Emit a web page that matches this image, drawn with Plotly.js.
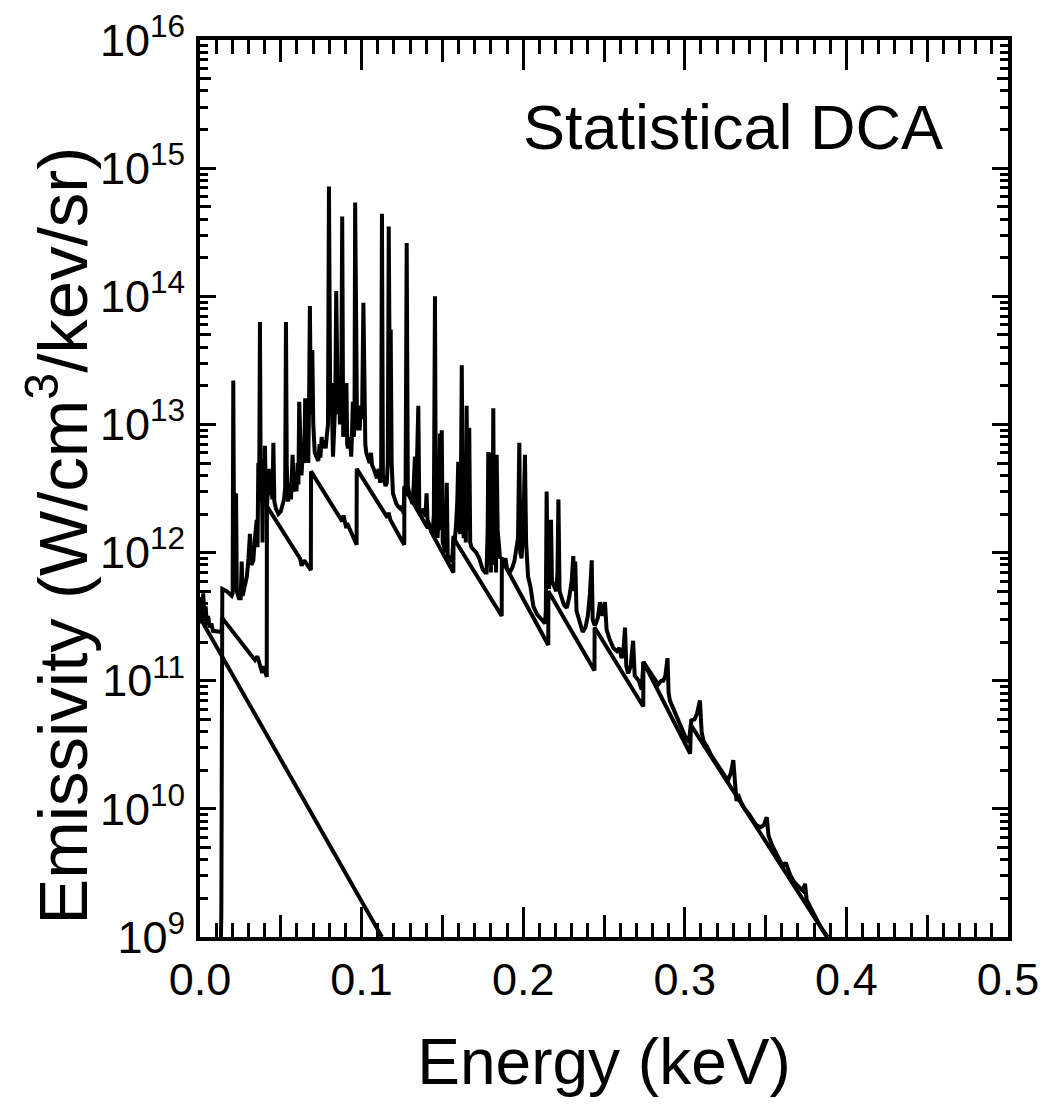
<!DOCTYPE html>
<html>
<head>
<meta charset="utf-8">
<script src="https://cdn.plot.ly/plotly-3.0.1.min.js"></script>
<style>html,body{margin:0;padding:0;background:#fff;} #chart{width:1059px;height:1109px;}</style>
</head>
<body>
<div id="chart"></div>
<script>
// Free-free continuum (steep straight line)
const ffEnergy = [0, 0.1126];
const ffEmis = [3.1e11, 1.0e9];

// Continuum with recombination edges (sawtooth)
const contEnergy = [0, 0.0008, 0.0013, 0.002, 0.0028, 0.0035, 0.0043, 0.005, 0.006, 0.007, 0.008, 0.0125, 0.0134, 0.0136,
  0.034, 0.0355, 0.0385, 0.0395, 0.0413, 0.0414, 0.0619, 0.0629, 0.0645, 0.0686, 0.0687,
  0.088, 0.0888, 0.0905, 0.091, 0.0969, 0.097, 0.116, 0.1168, 0.1178, 0.1264, 0.1265,
  0.141, 0.1418, 0.143, 0.1568, 0.1569, 0.1867, 0.1868, 0.2155, 0.2156, 0.2441, 0.2442,
  0.2743, 0.2744, 0.3033, 0.3038, 0.388];
const contEmis = [3.3e11, 4.5e11, 2.8e11, 4.8e11, 3.0e11, 3.8e11, 2.7e11, 3.2e11, 2.6e11, 2.8e11, 2.45e11, 2.4e11, 2.4e11, 3.1e11,
  1.45e11, 1.55e11, 1.15e11, 1.3e11, 1.07e11, 2.3e12, 9.0e11, 7.9e11, 8.7e11, 7.3e11, 4.3e12,
  1.75e12, 1.95e12, 1.55e12, 1.7e12, 1.15e12, 4.5e12, 1.87e12, 2.05e12, 1.8e12, 1.15e12, 3.2e12,
  1.55e12, 1.7e12, 1.45e12, 7.0e11, 1.3e12, 3.2e11, 8.8e11, 1.9e11, 5.0e11, 1.2e11, 2.6e11,
  6.3e10, 1.4e11, 2.7e10, 4.5e10, 1.0e9];

// Total spectrum (continuum + lines), Statistical DCA
const specEnergy = [0.0125, 0.0132, 0.0138, 0.0165, 0.0196, 0.0202, 0.0206, 0.0212, 0.0218, 0.0223, 0.0228, 0.024, 0.0252, 0.0258, 0.0264,
  0.028, 0.029, 0.030, 0.0309, 0.0318, 0.033, 0.034, 0.0351, 0.0356, 0.0361, 0.0366, 0.0371, 0.0376, 0.0382, 0.0387, 0.0392, 0.0397,
  0.0402, 0.0408, 0.0415, 0.0425, 0.0432, 0.044, 0.0448, 0.0454, 0.046, 0.047, 0.0485, 0.05, 0.051, 0.052, 0.0527, 0.0532, 0.0537,
  0.0545, 0.0555, 0.0563, 0.0573, 0.058, 0.059, 0.0597, 0.0604, 0.0609, 0.0614, 0.062, 0.0628, 0.0636, 0.0645, 0.0651, 0.0657,
  0.0664, 0.067, 0.0675, 0.068, 0.0686, 0.069, 0.0695, 0.0701, 0.071, 0.072, 0.0732, 0.074, 0.0745, 0.0753, 0.076, 0.077, 0.0778,
  0.0784, 0.0792, 0.0798, 0.0806, 0.0813, 0.0818, 0.0823, 0.083, 0.0837, 0.0843, 0.0848, 0.0853, 0.086, 0.0866, 0.0874, 0.088,
  0.0886, 0.0894, 0.09, 0.0906, 0.0911, 0.0916, 0.0926, 0.0936, 0.0941, 0.0946, 0.0952, 0.0956, 0.096, 0.0966, 0.0972, 0.098,
  0.0988, 0.0995, 0.1003, 0.1011, 0.1017, 0.1023, 0.1029, 0.104, 0.105, 0.1058, 0.1065, 0.1075, 0.1085, 0.1095, 0.1105, 0.1115,
  0.1121, 0.1126, 0.1132, 0.114, 0.1148, 0.1156, 0.1162, 0.1168, 0.1174, 0.118, 0.1186, 0.1194, 0.1205, 0.1215, 0.1225, 0.124,
  0.1252, 0.126, 0.1265, 0.1272, 0.1279, 0.1286, 0.1295, 0.1305, 0.1315, 0.1322, 0.133, 0.1336, 0.1344, 0.1351, 0.1357, 0.1365,
  0.1375, 0.1385, 0.1395, 0.1402, 0.1408, 0.142, 0.143, 0.144, 0.1447, 0.1454, 0.146, 0.147, 0.1478, 0.1485, 0.149, 0.1496, 0.1502,
  0.151, 0.152, 0.1527, 0.1533, 0.1547, 0.156, 0.1569, 0.1576, 0.1585, 0.1592, 0.1598, 0.1604, 0.1612, 0.162, 0.1626, 0.1632,
  0.164, 0.1645, 0.165, 0.1656, 0.1666, 0.1672, 0.168, 0.1695, 0.171, 0.1728, 0.1749, 0.1765, 0.1773, 0.178, 0.1784, 0.1788,
  0.1795, 0.18, 0.1806, 0.181, 0.1815, 0.182, 0.1828, 0.1832, 0.1836, 0.1842, 0.185, 0.1856, 0.1868, 0.188, 0.189, 0.19, 0.1915,
  0.193, 0.1945, 0.196, 0.1968, 0.1976, 0.1982, 0.199, 0.2, 0.2011, 0.2018, 0.203, 0.2045, 0.2063, 0.2085, 0.2104, 0.2125, 0.2135,
  0.214, 0.2145, 0.2152, 0.216, 0.2166, 0.2172, 0.2178, 0.219, 0.2205, 0.2212, 0.2218, 0.2225, 0.224, 0.2252, 0.227, 0.2285, 0.23,
  0.231, 0.2316, 0.2322, 0.233, 0.235, 0.2368, 0.2385, 0.24, 0.2413, 0.2424, 0.243, 0.2442, 0.245, 0.2462, 0.2475, 0.249, 0.2506,
  0.2516, 0.2535, 0.2558, 0.258, 0.2595, 0.2609, 0.262, 0.263, 0.2638, 0.265, 0.2665, 0.268, 0.269, 0.2715, 0.2733, 0.2744, 0.276,
  0.2775, 0.28, 0.282, 0.2837, 0.2855, 0.2867, 0.288, 0.2893, 0.29, 0.2908, 0.293, 0.295, 0.2975, 0.3001, 0.3025, 0.304, 0.306,
  0.3075, 0.3094, 0.3104, 0.3115, 0.3135, 0.3165, 0.3197, 0.323, 0.3255, 0.3269, 0.3285, 0.33, 0.331, 0.332, 0.333, 0.3345, 0.337,
  0.34, 0.3425, 0.3445, 0.347, 0.349, 0.3507, 0.3518, 0.354, 0.356, 0.359, 0.361, 0.3625, 0.365, 0.3671, 0.37, 0.373, 0.3744,
  0.3754, 0.38, 0.385, 0.3885];
const specEmis = [5e8, 1.5e9, 5.2e11, 5.0e11, 4.6e11, 4.8e11, 2.2e13, 5e11, 6e11, 2.9e12, 5e11, 4.4e11, 4.4e11, 8.5e11, 4.6e11,
  5.5e11, 6.5e11, 9e11, 1.4e12, 8e11, 8.7e11, 1.3e12, 1.8e12, 1.1e12, 5e12, 2.5e12, 6.3e13, 3e12, 5e12, 1.2e12, 5.3e12, 3e12,
  6.8e12, 2.5e12, 2.3e12, 4.5e12, 2.8e12, 3.5e12, 2.6e12, 7.2e12, 2.5e12, 2.2e12, 2.0e12, 2.1e12, 2.3e12, 2.6e12, 3.2e12, 6.3e13, 4.6e12,
  2.5e12, 3.5e12, 2.6e12, 5.8e12, 3e12, 4e12, 3e12, 5e12, 3.4e12, 1.5e13, 5.5e12, 4e12, 6e12, 5e12, 1.6e13, 6e12,
  1.6e13, 5e12, 1.5e13, 8.4e13, 1.2e13, 1.5e13, 3.8e13, 1e13, 6e12, 5.5e12, 5.2e12, 7e12, 5.5e12, 8e12, 6.5e12, 7.5e12, 6.5e12,
  8e12, 1.0e13, 7.2e14, 1.2e13, 2.1e13, 8e12, 5.6e12, 9e12, 1.5e13, 1.1e14, 2e13, 1.2e13, 2e13, 1e13, 1.6e13, 4.2e14,
  8e12, 1.2e13, 9e12, 2.1e13, 7e12, 6.5e12, 8e12, 5.6e12, 9e12, 1.5e13, 8e12, 1.0e13, 5.4e14, 1.0e13, 9e12, 1.2e13,
  9e12, 1.4e13, 1.1e13, 8.9e13, 1e13, 7e12, 6e12, 5.5e12, 5e12, 6e12, 4.8e12, 4.5e12, 4.0e12, 3.8e12, 4.5e12, 3.5e12,
  4.5e12, 4.4e14, 4e12, 3.5e12, 3.3e12, 3.5e12, 5e12, 3.5e14, 2e13, 5.5e13, 5e12, 2.9e12, 2.6e12, 2.4e12, 2.3e12, 2.2e12,
  2.3e12, 2.0e12, 3.3e12, 2.8e12, 2.6e14, 3.3e12, 2.9e12, 2.6e12, 2.4e12, 3.3e12, 5.6e12, 2.3e12, 6e12, 1.4e13, 2.2e12, 2.1e12,
  2.0e12, 2.2e12, 1.9e12, 2.9e12, 1.8e12, 1.6e12, 1.5e12, 1.4e12, 2e12, 1.0e14, 1.5e12, 1.3e12, 2e12, 8.5e12, 1.5e12, 9e12, 1.2e12,
  1.1e12, 1.0e12, 3.5e12, 9.5e11, 9e11, 8.5e11, 1.35e12, 1.2e12, 1.7e12, 2.5e12, 5.1e12, 1.5e12, 1.4e12, 2.9e13, 1.6e12, 1.3e12,
  2e12, 1.2e12, 1.4e13, 1.5e12, 9.4e12, 1.2e12, 1.1e12, 1.05e12, 1.0e12, 9e11, 7.4e11, 7e11, 7e11, 1.5e12, 6.1e12, 8e11,
  5e12, 7e11, 6e12, 9e11, 1.34e13, 8e11, 5e12, 7e11, 5.8e12, 1.5e12, 1.0e12, 9.2e11, 9e11, 8.5e11, 9e11, 7.5e11, 7e11,
  7.5e11, 8.5e11, 1.1e12, 1.3e12, 7.2e12, 1e12, 9e11, 1.5e12, 5.8e12, 1.2e12, 6.5e11, 5.4e11, 3.8e11, 3.3e11, 3.1e11, 2.9e11, 2.8e11,
  3.5e11, 3e12, 6e11, 5.2e11, 1e12, 1.8e12, 6e11, 5.5e11, 5e11, 7e11, 2.6e12, 5e11, 4.2e11, 3.9e11, 3.7e11, 4.5e11, 6e11,
  9.4e11, 5e11, 8.5e11, 3.5e11, 2.8e11, 2.4e11, 2.6e11, 3.2e11, 4.8e11, 8.7e11, 3e11, 2.7e11, 2.8e11, 3.1e11, 4.1e11, 3.2e11, 4.1e11,
  2.5e11, 2.1e11, 1.8e11, 1.7e11, 1.8e11, 1.5e11, 1.7e11, 2.6e11, 1.3e11, 1.14e11, 1.3e11, 2.05e11, 1.1e11, 1.0e11, 8.5e10, 1.4e11, 1.3e11,
  1.2e11, 1.1e11, 1.0e11, 9.4e10, 1.0e11, 1.0e11, 1.1e11, 1.5e11, 8e10, 7e10, 6e10, 5.3e10, 4.5e10, 3.7e10, 3.3e10, 4.9e10, 5e10,
  5.5e10, 7e10, 4e10, 3.4e10, 3.1e10, 2.6e10, 2.25e10, 1.9e10, 1.75e10, 1.7e10, 1.9e10, 2.4e10, 1.5e10, 1.15e10, 1.3e10, 1.15e10, 1.0e10,
  9e9, 8e9, 7.4e9, 7.2e9, 7.5e9, 8.6e9, 6.2e9, 5.2e9, 4.6e9, 3.9e9, 3.6e9, 3.8e9, 3.1e9, 2.75e9, 2.5e9, 2.3e9, 2.6e9,
  1.95e9, 1.5e9, 1.15e9, 1.0e9];

const xTickVals = [0, 0.1, 0.2, 0.3, 0.4, 0.5];
const xTickText = ['0.0', '0.1', '0.2', '0.3', '0.4', '0.5'];
const xMidTicks = [0.05, 0.15, 0.25, 0.35, 0.45];
const yTickVals = [1e9, 1e10, 1e11, 1e12, 1e13, 1e14, 1e15, 1e16];
const yTickText = ['10<sup>9</sup>', '10<sup>10</sup>', '10<sup>11</sup>', '10<sup>12</sup>', '10<sup>13</sup>', '10<sup>14</sup>', '10<sup>15</sup>', '10<sup>16</sup>'];
const yMidTicks = [5e9, 5e10, 5e11, 5e12, 5e13, 5e14, 5e15];

const FONT = 'Liberation Sans, Arial, Helvetica, sans-serif';
const lineStyle = {color: '#000', width: 4};

const traces = [
  {x: ffEnergy, y: ffEmis, mode: 'lines', line: lineStyle, showlegend: false, hoverinfo: 'skip'},
  {x: contEnergy, y: contEmis, mode: 'lines', line: lineStyle, showlegend: false, hoverinfo: 'skip'},
  {x: specEnergy, y: specEmis, mode: 'lines', line: lineStyle, showlegend: false, hoverinfo: 'skip'},
  {x: [], y: [], xaxis: 'x2', yaxis: 'y2', mode: 'lines', showlegend: false, hoverinfo: 'skip'}
];

const layout = {
  width: 1059, height: 1109,
  margin: {l: 200, r: 51, t: 40, b: 172},
  paper_bgcolor: '#fff', plot_bgcolor: '#fff',
  font: {family: FONT, color: '#000'},
  showlegend: false,
  xaxis: {
    range: [0, 0.5], tickvals: xTickVals, ticktext: xTickText,
    ticks: 'inside', ticklen: 30, tickwidth: 3, tickcolor: '#000',
    minor: {dtick: 0.01, ticks: 'inside', ticklen: 14, tickwidth: 3, tickcolor: '#000', showgrid: false},
    showline: true, linewidth: 4, linecolor: '#000', mirror: 'ticks',
    showgrid: false, zeroline: false,
    tickfont: {size: 45, family: FONT}, ticklabelstandoff: 0,
    title: {text: 'Energy (keV)', font: {size: 64, family: FONT}, standoff: 36}
  },
  yaxis: {
    type: 'log', range: [9, 16], tickvals: yTickVals, ticktext: yTickText,
    ticks: 'inside', ticklen: 16, tickwidth: 3, tickcolor: '#000',
    minor: {dtick: 'D1', ticks: 'inside', ticklen: 8, tickwidth: 3, tickcolor: '#000', showgrid: false},
    showline: true, linewidth: 4, linecolor: '#000', mirror: 'ticks',
    showgrid: false, zeroline: false,
    tickfont: {size: 45, family: FONT}, ticklabelstandoff: 2
  },
  xaxis2: {
    overlaying: 'x', anchor: 'y', side: 'bottom', range: [0, 0.5], tickvals: xMidTicks,
    ticks: 'inside', ticklen: 22, tickwidth: 3, tickcolor: '#000', showticklabels: false,
    showline: false, mirror: 'ticks', showgrid: false, zeroline: false
  },
  yaxis2: {
    overlaying: 'y', anchor: 'x', side: 'left', type: 'log', range: [9, 16], tickvals: yMidTicks,
    ticks: 'inside', ticklen: 11, tickwidth: 3, tickcolor: '#000', showticklabels: false,
    showline: false, mirror: 'ticks', showgrid: false, zeroline: false
  },
  annotations: [
    {
      text: 'Statistical DCA', xref: 'paper', yref: 'paper', x: 0.922, y: 0.903,
      xanchor: 'right', yanchor: 'middle', showarrow: false,
      font: {size: 63, family: FONT, color: '#000'}
    },
    {
      text: 'Emissivity (W/cm<sup>3</sup>/kev/sr)', xref: 'paper', yref: 'paper', x: -0.176, y: 0.447,
      xanchor: 'center', yanchor: 'middle', textangle: -90, showarrow: false,
      font: {size: 69, family: FONT, color: '#000'}
    }
  ]
};

Plotly.newPlot('chart', traces, layout, {displayModeBar: false, staticPlot: true});
</script>
</body>
</html>
